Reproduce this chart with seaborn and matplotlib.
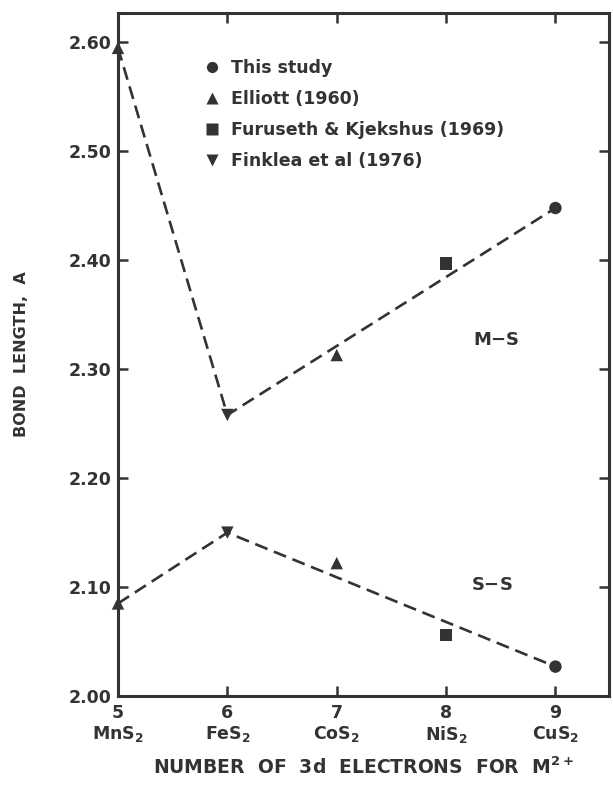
import pandas as pd
import matplotlib.pyplot as plt
import seaborn as sns

INK = '#333333'

# M-S and S-S bond lengths by source
sources = ['This study', 'Elliott (1960)', 'Furuseth & Kjekshus (1969)', 'Finklea et al (1976)']
src_x = [[9, 9], [5, 7, 5, 7], [8, 8], [6, 6]]
src_y = [[2.448, 2.027], [2.595, 2.313, 2.085, 2.122], [2.397, 2.056], [2.258, 2.150]]

# dashed trend lines
ms_x = [5, 6, 9]
ms_y = [2.595, 2.258, 2.448]
ss_x = [5, 6, 9]
ss_y = [2.085, 2.150, 2.027]

electrons = [5, 6, 7, 8, 9]
compounds = ['MnS$_2$', 'FeS$_2$', 'CoS$_2$', 'NiS$_2$', 'CuS$_2$']

rows = []
for name, xs, ys in zip(sources, src_x, src_y):
    for x, y in zip(xs, ys):
        rows.append({'n': x, 'length': y, 'source': name})
df = pd.DataFrame(rows)

sns.set_style('ticks')
plt.rcParams['font.family'] = ['DejaVu Sans']
plt.rcParams['font.weight'] = 'bold'
plt.rcParams['axes.labelweight'] = 'bold'

fig = plt.figure(figsize=(6.13, 7.94), dpi=100)
ax = fig.add_axes([0.1925, 0.1234, 0.801, 0.8602])

sns.lineplot(x=ms_x, y=ms_y, ax=ax, color=INK, lw=1.9, linestyle=(0, (5, 2.6)), legend=False)
sns.lineplot(x=ss_x, y=ss_y, ax=ax, color=INK, lw=1.9, linestyle=(0, (5, 2.6)), legend=False)

markers = {'This study': 'o', 'Elliott (1960)': '^',
           'Furuseth & Kjekshus (1969)': 's', 'Finklea et al (1976)': 'v'}
sns.scatterplot(data=df, x='n', y='length', hue='source', style='source',
                markers=markers, palette=[INK] * 4, s=80, edgecolor='none',
                ax=ax, zorder=3, clip_on=False)

ax.set_xlim(5, 9.49)
ax.set_ylim(2.0, 2.627)
ax.set_xticks(electrons)
ax.set_xticklabels([f'{n}\n{c}' for n, c in zip(electrons, compounds)], fontsize=12.5, linespacing=1.1)
ax.set_yticks([2.0, 2.1, 2.2, 2.3, 2.4, 2.5, 2.6])
ax.set_yticklabels([f'{v:.2f}' for v in [2.0, 2.1, 2.2, 2.3, 2.4, 2.5, 2.6]], fontsize=12.5)
ax.tick_params(direction='in', length=7, width=1.8, color=INK, labelcolor=INK,
               top=True, right=True)
ax.tick_params(axis='x', pad=6)
ax.tick_params(axis='y', pad=5)

for s in ax.spines.values():
    s.set_visible(True)
    s.set_linewidth(2.2)
    s.set_color(INK)

ax.set_xlabel('NUMBER  OF  3d  ELECTRONS  FOR  M$^{2+}$', fontsize=13.5, color=INK, labelpad=8)
ax.set_ylabel('BOND  LENGTH,  A', fontsize=11.5, color=INK, labelpad=28)

ax.text(8.46, 2.327, 'M$-$S', fontsize=13, color=INK, ha='center', va='center')
ax.text(8.42, 2.102, 'S$-$S', fontsize=13, color=INK, ha='center', va='center')

ax.legend(loc='upper left', bbox_to_anchor=(0.125, 0.955), frameon=False,
          fontsize=12.5, handletextpad=0.1, labelspacing=0.75, markerscale=0.9,
          labelcolor=INK)

fig.savefig('out.png', dpi=100)
